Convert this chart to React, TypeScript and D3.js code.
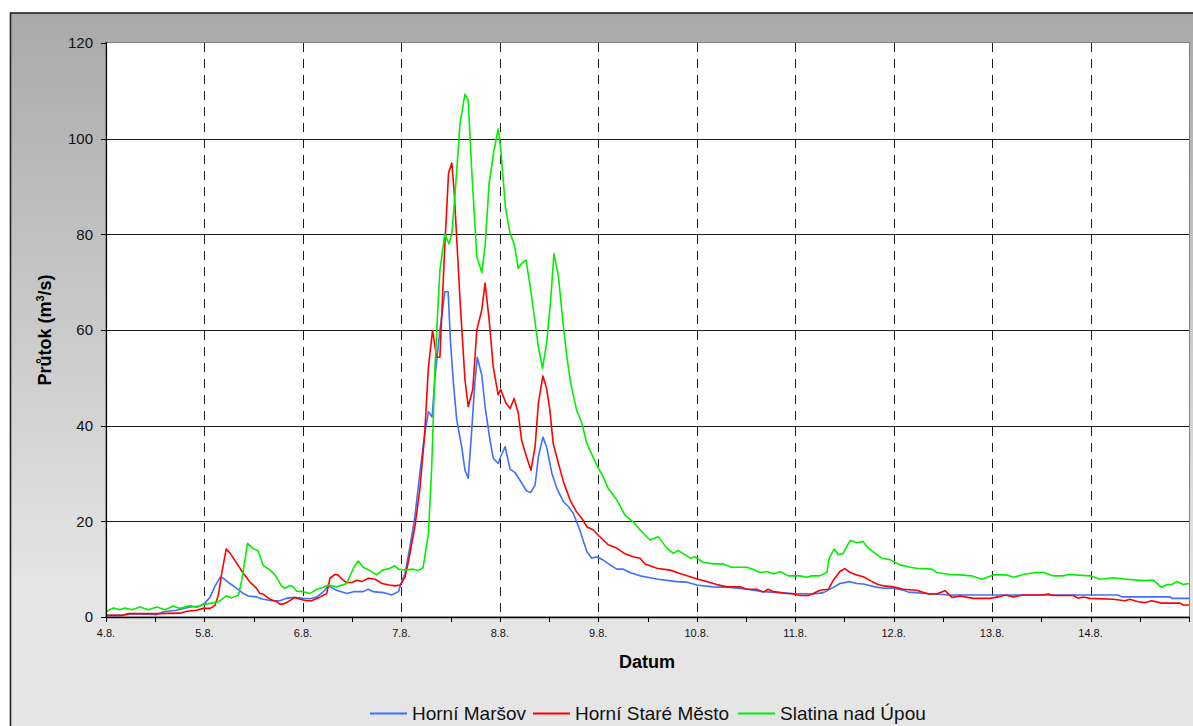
import React, { useEffect, useRef } from 'react';
import * as d3 from 'd3';

// pocatek grafu 4.8. 0:00, 11 dni
const START = new Date(2006, 7, 4);
const DAYS = 11;

const yTicks = [0, 20, 40, 60, 80, 100, 120];
const seriesNames = ['Horní Maršov', 'Horní Staré Město', 'Slatina nad Úpou'];
const seriesColors = ['#3f6fff', '#ff0000', '#00f000'];

// [hodiny od 4.8. 0:00, prutok m3/s]
const horniMarsov: [number, number][] = [
  [0, 0.35], [4, 0.35], [6.7, 0.7], [12.4, 0.5], [14, 1.1], [17.2, 1.4], [20.5, 2.1], [22.9, 2.3],
  [24.1, 2.9], [25.4, 4.2], [26.6, 6.5], [27.8, 8.3], [28.6, 8.1], [30.2, 7.0], [31.9, 6.0], [33.5, 4.9],
  [34.7, 4.4], [36.7, 4.2], [38.3, 3.7], [40.4, 3.4], [42.4, 3.4], [44, 3.9], [45.7, 4.1], [48.1, 3.9],
  [49.7, 3.8], [51.4, 4.2], [53, 5.3], [54.2, 6.5], [56.2, 5.6], [58.7, 4.9], [60.3, 5.3], [62.7, 5.3],
  [63.9, 5.8], [65.1, 5.3], [67.6, 5.1], [69.6, 4.6], [71.3, 5.3], [71.8, 6.7], [72.9, 9.1], [74.1, 14.7],
  [75.3, 21.0], [76.5, 30.0], [77.7, 38.4], [78.6, 42.9], [79.5, 41.8], [80.2, 50.2], [81.4, 60.0],
  [82.6, 68.0], [83.4, 68.0], [84.0, 57.2], [84.7, 48.8], [85.5, 41.2], [86.7, 35.6], [87.5, 30.7],
  [88.3, 29.0], [89.1, 38.4], [89.9, 48.8], [90.5, 54.3], [91.6, 50.6], [92.4, 44.0], [93.6, 37.0],
  [94.4, 33.2], [95.6, 32.1], [96.2, 33.5], [97.3, 35.6], [98.5, 30.9], [99.7, 30.2], [100.9, 28.6],
  [102.5, 26.4], [103.5, 26.0], [104.6, 27.6], [105.4, 33.5], [106.5, 37.6], [107.4, 35.6], [108.7, 30.0],
  [109.9, 26.9], [111.5, 24.1], [112.7, 23.1], [113.9, 21.7], [115.5, 18.2], [117.2, 13.7], [118.4, 12.3],
  [119.6, 12.6], [121.2, 11.9], [122.9, 10.9], [124.5, 10.0], [126.1, 10.0], [127.7, 9.3], [130.2, 8.6],
  [132.6, 8.2], [134.6, 7.9], [139.1, 7.4], [141.5, 7.3], [144, 6.7], [147.9, 6.3], [152.3, 6.2],
  [156.2, 5.8], [160.2, 5.3], [164.3, 5.1], [167.6, 4.9], [172.4, 4.8], [174.9, 5.1], [177.3, 6.2],
  [178.9, 7.0], [181.2, 7.4], [183, 7.0], [184.6, 6.9], [187.5, 6.3], [189.5, 6.0], [191.9, 6.0],
  [194.4, 5.6], [195.6, 5.2], [200.1, 4.9], [205.7, 4.6], [246.6, 4.6], [247.8, 4.2], [259.4, 4.2],
  [259.8, 3.9], [264, 3.9],
];

const horniStareMesto: [number, number][] = [
  [0, 0.35], [4.1, 0.35], [5.3, 0.7], [12.2, 0.7], [18, 0.8], [19.7, 1.2], [22.1, 1.4], [23.7, 1.8],
  [25.4, 1.8], [26.6, 2.5], [27.4, 4.6], [28.2, 9.1], [29.3, 14.2], [30.2, 13.4], [31.9, 11.2], [33.5, 9.1],
  [35.1, 7.3], [36.7, 6.0], [37.5, 4.9], [38.3, 4.8], [40, 3.7], [41.6, 3.2], [42.4, 2.7], [43.2, 2.7],
  [44.4, 3.2], [46.1, 4.1], [47.3, 3.7], [48.9, 3.4], [50.1, 3.4], [52.2, 4.2], [53.8, 4.9], [54.6, 8.1],
  [55.8, 8.9], [56.6, 8.8], [57.5, 7.9], [58.7, 7.2], [59.9, 7.2], [61.1, 7.7], [62.3, 7.4], [64, 8.1],
  [65.6, 7.9], [67.3, 7.0], [69, 6.7], [70.5, 6.5], [71.8, 6.7], [72.9, 8.4], [73.7, 11.5], [75.3, 18.9],
  [76.5, 26.6], [77.7, 38.4], [78.6, 52.3], [79.6, 59.9], [80.6, 54.3], [81.4, 54.3], [82.5, 76.0],
  [83.5, 92.8], [84.3, 94.9], [84.9, 88.6], [86.3, 66.3], [87.5, 49.6], [88.3, 44.0], [89.4, 47.5],
  [90.4, 60.0], [91.6, 64.2], [92.4, 69.8], [93.4, 62.1], [94.4, 52.3], [95.6, 46.4], [96.2, 47.6],
  [97.5, 44.7], [98.5, 43.6], [99.5, 45.7], [100.5, 42.6], [101.3, 37.0], [102.5, 33.5], [103.6, 30.7],
  [104.6, 35.6], [105.4, 44.7], [106.5, 50.4], [107.4, 47.8], [108.2, 43.3], [109, 36.3], [110.3, 32.1],
  [111.5, 28.3], [113.1, 24.5], [114.7, 22.0], [116, 20.6], [117.3, 18.8], [118.8, 18.2], [120, 17.1],
  [122.4, 15.1], [124.5, 14.4], [126.5, 13.2], [128.5, 12.6], [130.2, 12.3], [131.4, 11.1], [134.3, 10.2],
  [137.5, 9.8], [139.9, 9.1], [142.4, 8.4], [144.4, 7.9], [146.8, 7.3], [148.9, 6.8], [151.3, 6.3],
  [154.6, 6.3], [156.2, 5.8], [158.6, 5.8], [160.2, 5.2], [161.4, 5.8], [162.7, 5.3], [165.9, 4.9],
  [167.6, 4.8], [169.2, 4.5], [171.2, 4.5], [172.4, 4.9], [174, 5.6], [176.1, 5.8], [177.3, 7.7],
  [178.9, 9.5], [180.1, 10.1], [181.4, 9.3], [183, 8.8], [184.6, 8.4], [186.3, 7.6], [187.9, 6.9],
  [189.5, 6.5], [191.9, 6.3], [194.4, 5.8], [197.6, 5.6], [200.5, 4.8], [202.5, 4.8], [204.5, 5.5],
  [206.2, 4.1], [208.2, 4.4], [211.4, 3.9], [215.5, 3.9], [217.5, 4.2], [219.2, 4.6], [221.2, 4.2],
  [223.6, 4.6], [228.1, 4.6], [229.7, 4.8], [230.9, 4.5], [235.8, 4.5], [237, 3.9], [238.2, 4.2],
  [239.9, 3.9], [245.5, 3.7], [248.4, 3.4], [249.6, 3.7], [251.6, 3.2], [253.2, 3.0], [254.9, 3.4],
  [257.3, 2.9], [261.8, 2.9], [262.6, 2.5], [264, 2.5],
];

const slatinaNadUpou: [number, number][] = [
  [0, 1.1], [1.8, 1.9], [3.4, 1.5], [4.6, 1.9], [6.3, 1.5], [8.3, 2.1], [10.3, 1.5], [12.4, 2.1],
  [14.4, 1.5], [16.4, 2.3], [18, 1.8], [20.5, 2.4], [22.1, 2.0], [23.7, 2.6], [25.8, 2.9], [27.4, 3.2],
  [29.4, 4.4], [30.6, 4.0], [32.3, 4.6], [33.1, 7.7], [34.5, 15.4], [35.9, 14.3], [37.1, 13.8], [38.3, 10.8],
  [40, 9.8], [41.2, 8.8], [42.8, 6.5], [43.6, 6.0], [44.9, 6.6], [45.7, 6.3], [46.5, 5.4], [48.1, 5.3],
  [49.7, 4.9], [51.4, 5.8], [53, 6.2], [54.2, 6.7], [56.2, 6.3], [58.7, 7.0], [60.3, 10.2], [61.5, 11.7],
  [62.7, 10.4], [64.4, 9.7], [66, 8.8], [67.4, 9.8], [69.2, 10.2], [70.4, 10.7], [71.3, 10.0], [72.9, 9.8],
  [74.9, 10.0], [76.1, 9.7], [77.3, 10.3], [78.6, 17.5], [79.4, 31.4], [80.2, 52.3], [81, 66.3], [81.4, 72.5],
  [82.6, 80.1], [83.6, 78.0], [84.3, 80.1], [85.1, 88.6], [86.3, 103.2], [87.5, 109.3], [88.3, 108.0],
  [89.1, 94.1], [90.4, 75.3], [91.6, 72.0], [92.4, 77.4], [93.4, 90.7], [94.6, 97.6], [95.6, 102.0],
  [96.2, 98.0], [97.4, 85.4], [98.5, 80.2], [99.5, 78.0], [100.5, 72.9], [101.3, 73.9], [102.4, 74.6],
  [103.4, 69.1], [104.3, 63.5], [105.4, 56.5], [106.4, 52.0], [107.4, 57.2], [108.4, 66.3], [109.2, 76.0],
  [110.3, 71.1], [111.5, 60.7], [112.4, 54.0], [113.3, 48.8], [114.7, 43.3], [116, 40.5], [117.2, 36.3],
  [119.6, 31.8], [121.2, 29.3], [122.4, 26.9], [124.5, 24.5], [126.5, 21.3], [128.5, 19.9], [130.2, 18.2],
  [132.6, 16.1], [134.6, 16.8], [136.7, 14.4], [138.3, 13.3], [139.5, 13.9], [142.4, 12.3], [143.6, 12.6],
  [145.6, 11.4], [148, 11.1], [150.4, 11.1], [152.5, 10.4], [156.2, 10.4], [157.7, 10.0], [159.4, 9.3],
  [161.1, 9.5], [162.7, 9.0], [164.3, 9.5], [166.3, 8.6], [169.2, 8.6], [170.8, 8.3], [172, 8.6], [174, 8.6],
  [175.7, 9.3], [176.3, 12.3], [177.5, 14.2], [178.5, 13.0], [179.7, 13.3], [181.4, 16.0], [183, 15.5],
  [184.5, 15.8], [185.8, 14.4], [187.5, 13.3], [189.1, 12.3], [191.1, 12.0], [193.5, 10.9], [196, 10.4],
  [197.6, 10.2], [201.3, 10.0], [202.5, 9.3], [205.7, 8.9], [208.2, 8.8], [211, 8.6], [213.5, 7.9],
  [216.3, 8.8], [219.6, 8.8], [221.2, 8.3], [223.6, 8.9], [226.5, 9.3], [228.5, 9.3], [230.9, 8.6],
  [233.4, 8.6], [234.6, 8.9], [239.9, 8.6], [242.3, 7.9], [245.5, 8.2], [248.8, 7.9], [252.9, 7.6],
  [255.3, 7.7], [257.3, 6.2], [258.6, 6.8], [259.8, 6.8], [261, 7.4], [262.6, 6.8], [264, 7.0],
];

const allSeries = [horniMarsov, horniStareMesto, slatinaNadUpou];

const FONT = '"Liberation Sans", Arial, sans-serif';
const W = 1193;
const H = 726;

const hoursToDate = (h: number) => new Date(START.getTime() + h * 3600 * 1000);

const App = () => {
  const ref = useRef<SVGSVGElement>(null);

  useEffect(() => {
    const svg = d3.select(ref.current);
    svg.selectAll('*').remove();

    const left = 106, top = 43, right = 1189, bottom = 617;

    const x = d3.scaleTime()
      .domain([START, d3.timeDay.offset(START, DAYS)])
      .range([left, right]);
    const y = d3.scaleLinear().domain([0, 120]).range([bottom, top]);

    const defs = svg.append('defs');
    const grad = defs.append('linearGradient')
      .attr('id', 'bg')
      .attr('gradientUnits', 'userSpaceOnUse')
      .attr('x1', 0).attr('y1', 20).attr('x2', 0).attr('y2', 590);
    grad.append('stop').attr('offset', 0).attr('stop-color', '#aaaaaa');
    grad.append('stop').attr('offset', 1).attr('stop-color', '#e5e5e5');

    svg.append('rect').attr('width', W).attr('height', H).attr('fill', '#fff');

    // ramecek grafu
    svg.append('rect')
      .attr('x', 10.5).attr('y', 13)
      .attr('width', 1400).attr('height', 900)
      .attr('fill', 'url(#bg)')
      .attr('stroke', '#222').attr('stroke-width', 1.6);

    // plocha grafu
    svg.append('rect')
      .attr('x', left).attr('y', top - 0.5)
      .attr('width', right - left + 0.5).attr('height', bottom - top + 0.5)
      .attr('fill', '#fff')
      .attr('stroke', '#808080').attr('stroke-width', 1);

    const snap = (v: number) => Math.round(v) + 0.5;

    // vodorovna mrizka
    svg.append('g').selectAll('line')
      .data(yTicks.filter(t => t > 0 && t < 120))
      .enter().append('line')
      .attr('x1', left).attr('x2', right)
      .attr('y1', d => snap(y(d))).attr('y2', d => snap(y(d)))
      .attr('stroke', '#1a1a1a').attr('stroke-width', 1);

    // svisle carkovane cary po dnech
    const days = d3.timeDay.range(START, d3.timeDay.offset(START, DAYS));
    svg.append('g').selectAll('line')
      .data(days.slice(1))
      .enter().append('line')
      .attr('x1', d => snap(x(d))).attr('x2', d => snap(x(d)))
      .attr('y1', top).attr('y2', bottom)
      .attr('stroke', '#1a1a1a').attr('stroke-width', 1)
      .attr('stroke-dasharray', '9,7');

    // prubehy
    const line = d3.line<[number, number]>()
      .x(d => x(hoursToDate(d[0])))
      .y(d => y(d[1]));

    svg.append('g').selectAll('path')
      .data(allSeries)
      .enter().append('path')
      .attr('d', d => line(d))
      .attr('fill', 'none')
      .attr('stroke', (_, i) => seriesColors[i])
      .attr('stroke-width', 1.6)
      .attr('stroke-linejoin', 'round');

    // osa y
    svg.append('line')
      .attr('x1', left + 0.5).attr('x2', left + 0.5)
      .attr('y1', top - 1).attr('y2', bottom)
      .attr('stroke', '#000').attr('stroke-width', 1.2);
    const yAxis = svg.append('g');
    yAxis.selectAll('line')
      .data(yTicks)
      .enter().append('line')
      .attr('x1', left - 5).attr('x2', left)
      .attr('y1', d => snap(y(d))).attr('y2', d => snap(y(d)))
      .attr('stroke', '#000');
    yAxis.selectAll('text')
      .data(yTicks)
      .enter().append('text')
      .attr('x', left - 13)
      .attr('y', d => y(d))
      .attr('dy', '0.36em')
      .attr('text-anchor', 'end')
      .attr('font-family', FONT)
      .attr('font-size', 15)
      .attr('fill', '#111')
      .text(d => d);

    // osa x
    svg.append('line')
      .attr('x1', left).attr('x2', right + 1)
      .attr('y1', bottom + 0.5).attr('y2', bottom + 0.5)
      .attr('stroke', '#000').attr('stroke-width', 1.5);
    const xAxis = svg.append('g');
    xAxis.selectAll('line')
      .data(d3.timeHour.every(12)!.range(START, d3.timeHour.offset(d3.timeDay.offset(START, DAYS), 1)))
      .enter().append('line')
      .attr('x1', d => snap(x(d))).attr('x2', d => snap(x(d)))
      .attr('y1', bottom).attr('y2', bottom + 5)
      .attr('stroke', '#000');
    const fmt = d3.timeFormat('%-d.%-m.');
    xAxis.selectAll('text')
      .data(days)
      .enter().append('text')
      .attr('x', d => x(d))
      .attr('y', bottom + 20)
      .attr('text-anchor', 'middle')
      .attr('font-family', FONT)
      .attr('font-size', 11)
      .attr('fill', '#111')
      .text(d => fmt(d));

    // popisky os
    svg.append('text')
      .attr('x', 647).attr('y', 668)
      .attr('text-anchor', 'middle')
      .attr('font-family', FONT)
      .attr('font-size', 18)
      .attr('font-weight', 'bold')
      .text('Datum');

    const yl = svg.append('text')
      .attr('transform', `translate(51,${(top + bottom) / 2}) rotate(-90)`)
      .attr('text-anchor', 'middle')
      .attr('font-family', FONT)
      .attr('font-size', 18)
      .attr('font-weight', 'bold');
    yl.append('tspan').text('Průtok (m');
    yl.append('tspan').attr('font-size', 11).attr('dy', -7).text('3');
    yl.append('tspan').attr('dy', 7).text('/s)');

    // legenda
    const legendX = [370, 533, 738];
    const lg = svg.append('g');
    seriesNames.forEach((name, i) => {
      lg.append('line')
        .attr('x1', legendX[i]).attr('x2', legendX[i] + 37)
        .attr('y1', 713.5).attr('y2', 713.5)
        .attr('stroke', seriesColors[i]).attr('stroke-width', 1.8);
      lg.append('text')
        .attr('x', legendX[i] + 42).attr('y', 720)
        .attr('font-family', FONT)
        .attr('font-size', 19)
        .attr('fill', '#111')
        .text(name);
    });
  }, []);

  return (
    <svg
      ref={ref}
      width={W}
      height={H}
      style={{ position: 'absolute', left: 0, top: 0, display: 'block' }}
    />
  );
};

export default App;
